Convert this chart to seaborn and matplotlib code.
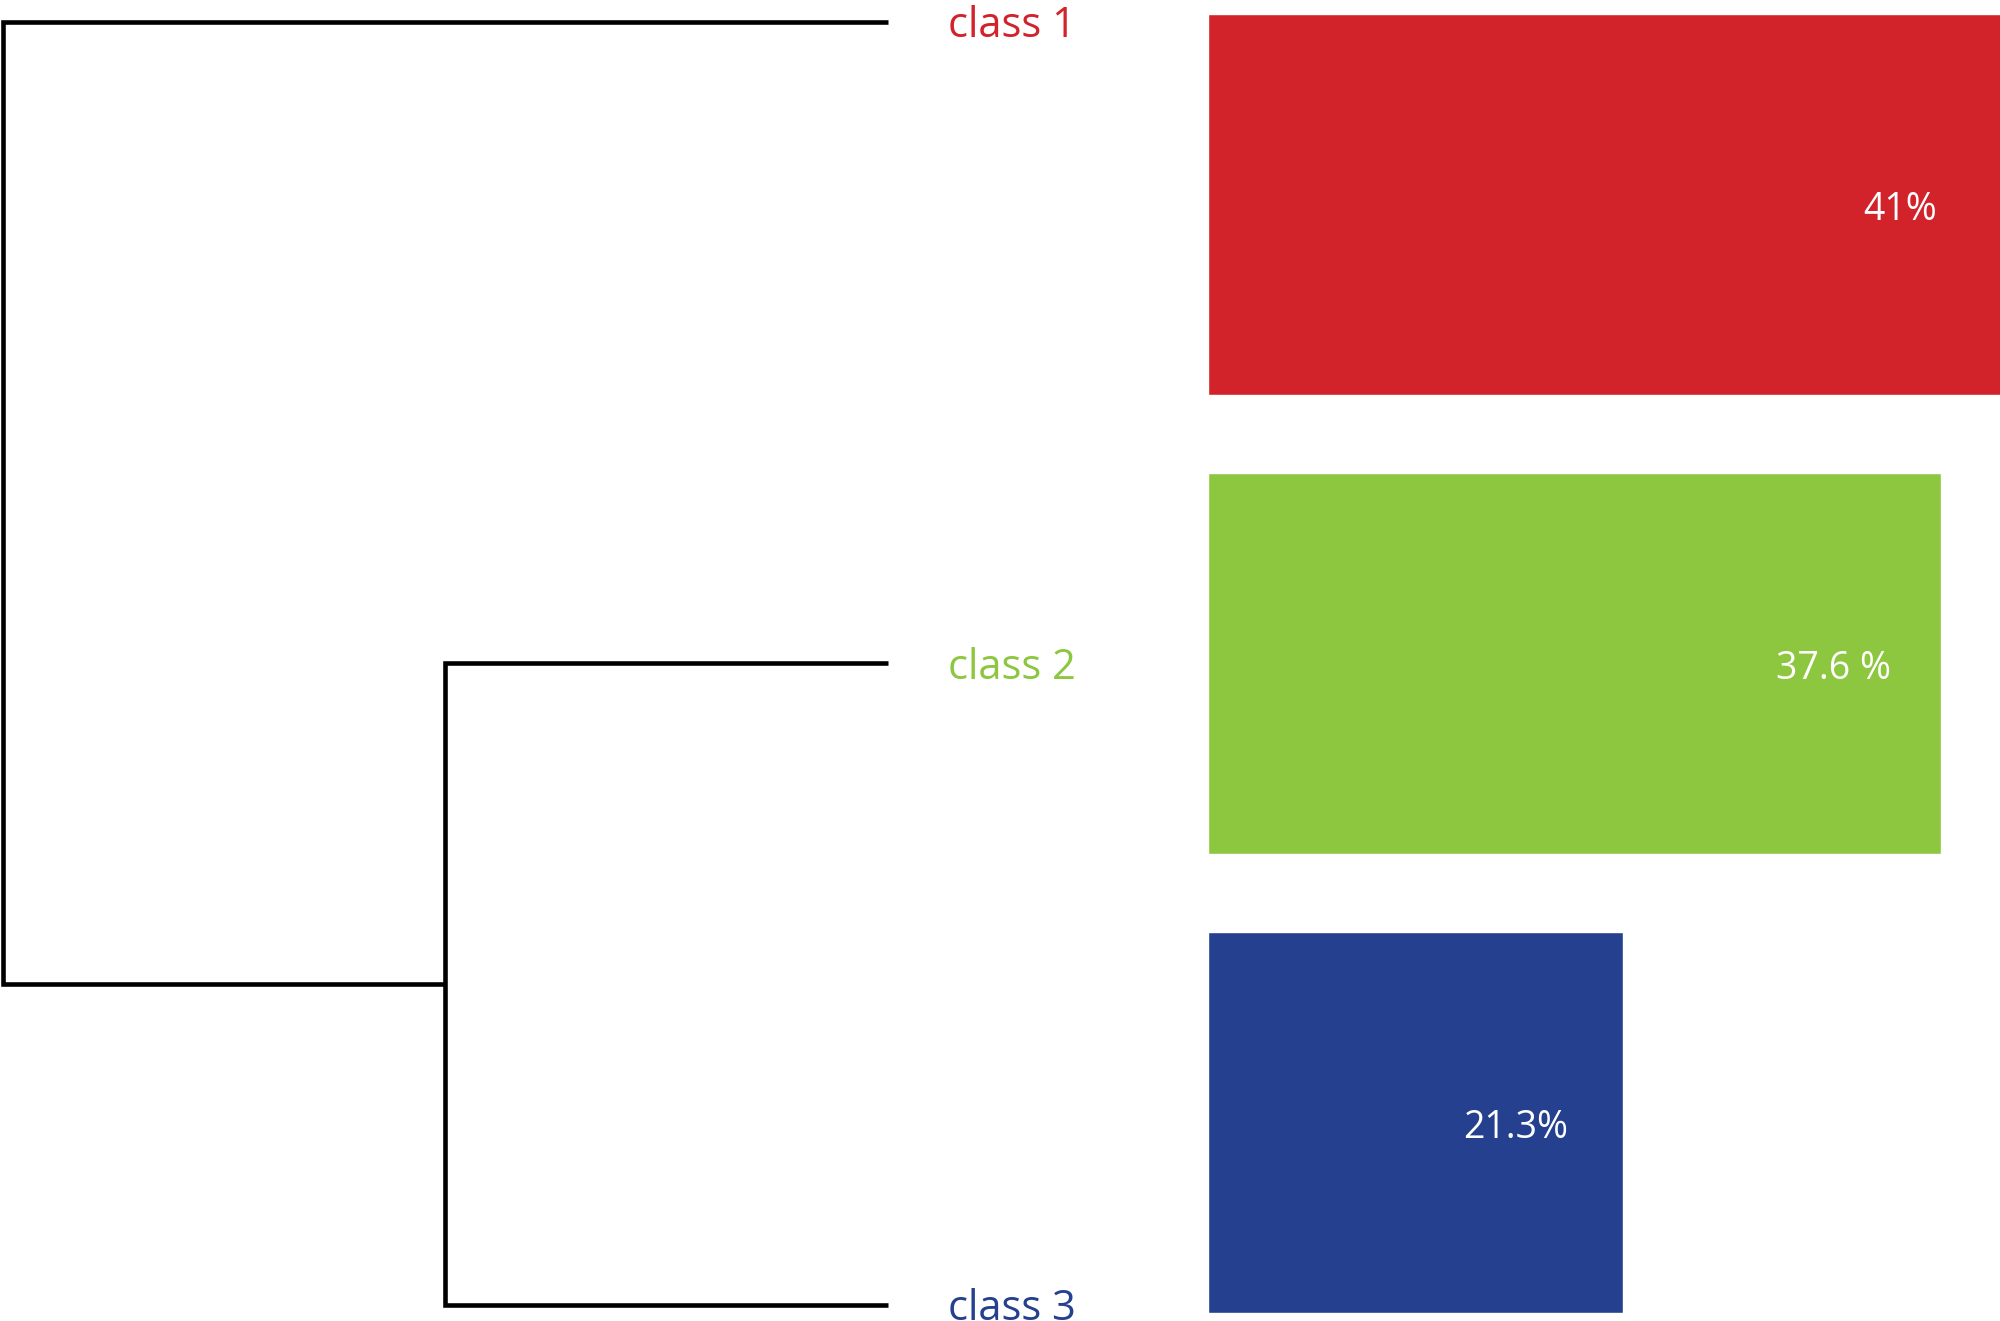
import matplotlib
matplotlib.use('Agg')
import matplotlib.pyplot as plt
import seaborn as sns
import pandas as pd
import numpy as np

# classes and their shares
classes = ['class 1', 'class 2', 'class 3']
shares = [41, 37.6, 21.3]
share_labels = ['41%', '37.6 %', '21.3%']
class_colors = ['#D2232A', '#8DC63F', '#24408E']

# linkage: (left node, right node, height); nodes 0..2 are leaves, 3 is the first merge
links = [(1, 2, 1.0), (0, 3, 2.0)]

sns.set_theme(style='white')
plt.rcParams['font.family'] = ['Open Sans', 'DejaVu Sans']

fig = plt.figure(figsize=(20, 13.21), dpi=100)

# dendrogram on the left
ax_d = fig.add_axes([0, 0, 0.604, 1])
node_y = {i: float(i) for i in range(len(classes))}
node_h = {i: 0.0 for i in range(len(classes))}
for k, (a, b, h) in enumerate(links):
    xs = [node_h[a], h, h, node_h[b]]
    ys = [node_y[a], node_y[a], node_y[b], node_y[b]]
    ax_d.plot(xs, ys, color='black', lw=3.3, solid_joinstyle='miter',
              solid_capstyle='butt')
    new = len(classes) + k
    node_y[new] = (node_y[a] + node_y[b]) / 2
    node_h[new] = h

px_per_unit = 442.5
leaf_px = 888
ax_d.set_xlim(2.0 + 3 / px_per_unit, -(1208 - leaf_px) / px_per_unit)
ax_d.set_ylim((1321 - 21.7) / 641.7, -21.7 / 641.7)
for i, name in enumerate(classes):
    ax_d.annotate(name, xy=(0, i), xytext=(60 * 0.72, -3), textcoords='offset points',
                  ha='left', va='center', fontsize=30, color=class_colors[i],
                  annotation_clip=False)
ax_d.axis('off')

# bars on the right
ax_b = fig.add_axes([0.604, 0, 0.396, 1])
df = pd.DataFrame({'cls': classes, 'share': shares})
sns.barplot(data=df, y='cls', x='share', hue='cls', palette=class_colors,
            orient='h', width=0.83, legend=False, ax=ax_b, saturation=1)
ax_b.set_xlim(0, 792 / 19.5)
ax_b.set_ylim((1321 - 204.5) / 459, -204.5 / 459)
for i, (v, lab) in enumerate(zip(shares, share_labels)):
    ax_b.annotate(lab, xy=(v - 5.5, i), xytext=(0, -4), textcoords='offset points',
                  ha='center', va='center', fontsize=27, color='white')
ax_b.axis('off')

fig.savefig('out.png', dpi=100, facecolor='white')
